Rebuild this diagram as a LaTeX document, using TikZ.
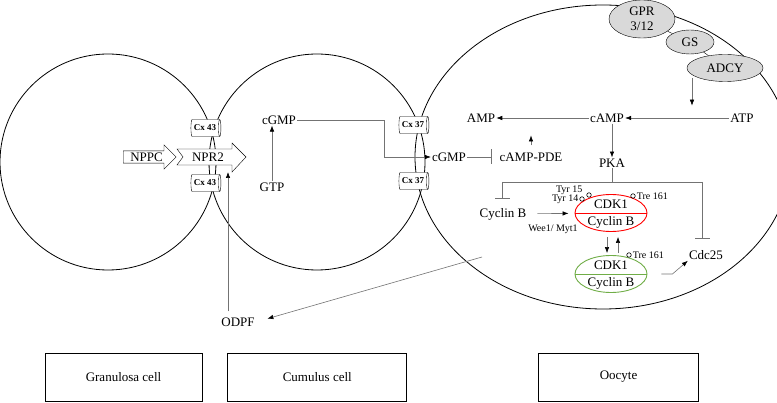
\documentclass[tikz,border=0pt]{standalone}
\usepackage{fontspec}
\setmainfont{Liberation Serif}
\usepackage{tikz}
\usetikzlibrary{arrows.meta,positioning,shapes.geometric,shapes.arrows}
\definecolor{mpfred}{rgb}{1,0,0}
\definecolor{mpfgreen}{RGB}{112,173,71}
\definecolor{lgrey}{RGB}{217,217,217}
\definecolor{ln}{RGB}{115,115,115}
\tikzset{
  cell/.style={circle,draw=black,line width=0.8pt,inner sep=0pt},
  oocyte/.style={ellipse,draw=black,line width=0.8pt,inner sep=0pt},
  gap/.style={cylinder,draw=black,fill=white,thin,inner sep=0.5pt,shape aspect=0.35,
    minimum width=17pt,minimum height=30pt,font=\bfseries\fontsize{9}{9}\selectfont},
  recp/.style={ellipse,draw=black,fill=lgrey,thin,inner sep=0pt,align=center,
    font=\fontsize{13}{15}\selectfont},
  lab/.style={inner sep=1pt,font=\fontsize{13}{15}\selectfont},
  small/.style={inner sep=0.5pt,font=\fontsize{10}{11}\selectfont},
  cplx/.style={ellipse,draw=#1,line width=0.9pt,inner sep=0pt,minimum width=72pt,minimum height=37pt},
  phos/.style={circle,draw=black,line width=0.6pt,inner sep=0pt,minimum size=4.5pt},
  cellbox/.style={rectangle,draw=black,line width=0.8pt,minimum height=48pt,
    font=\fontsize{13}{15}\selectfont},
  line/.style={draw=ln,line width=0.6pt,-{Latex[color=black,length=6pt,width=4.5pt]}},
  block/.style={draw=ln,line width=0.6pt,-{Bar[color=ln,width=15pt]}},
}
\begin{document}
\begin{tikzpicture}[x=1pt,y=-1pt]
    \useasboundingbox (0,0) rectangle (777,403);

    \node[cell,minimum size=216pt] (gran) at (108,162) {};
    \node[cell,minimum size=216pt] (cum) at (317,162) {};
    \node[oocyte,minimum width=376pt,minimum height=304pt] (oo) at (603,157) {};

    \node[single arrow,draw=black,fill=white,thin,anchor=tail,minimum height=53pt,
      single arrow head extend=6pt,inner ysep=1.6pt,inner xsep=2pt,
      font=\fontsize{13}{15}\selectfont] (nppc) at (123,157) {NPPC};
    \path[draw=black,thin,fill=white] (177,149) -- (232,149) -- (232,143) -- (246,157)
      -- (232,172) -- (232,165) -- (177,165) -- (183,157) -- cycle;
    \node[lab] (npr2) at (208,157) {NPR2};
    \coordinate (npr2b) at (228,172);

    \node[gap] (cxa) at (205,128) {Cx 43};
    \node[gap] (cxb) at (205,183) {Cx 43};
    \node[gap] (cxc) at (413,125) {Cx 37};
    \node[gap] (cxd) at (413,181) {Cx 37};

    \node[lab] (cgmpa) at (279,120) {cGMP};
    \node[lab] (gtp) at (272,187) {GTP};
    \node[lab] (odpf) at (238,322) {ODPF};

    \node[lab] (cgmpb) at (449,157) {cGMP};
    \node[lab] (pde) at (531,157) {cAMP-PDE};
    \node[lab] (amp) at (481,118) {AMP};
    \node[lab] (camp) at (607,118) {cAMP};
    \node[lab] (atp) at (742,118) {ATP};
    \node[lab] (pka) at (612,163) {PKA};
    \node[lab] (cycb) at (503,214) {Cyclin B};
    \node[lab] (cdc) at (706,255) {Cdc25};

    \node[recp,minimum width=66pt,minimum height=38pt] (gpr) at (642,19) {GPR\\3/12};
    \node[recp,minimum width=48pt,minimum height=24pt] (gs) at (690,42) {GS};
    \node[recp,minimum width=76pt,minimum height=27pt] (adcy) at (725,68) {ADCY};
    \draw[thin] (gpr) -- (gs);
    \draw[thin] (gs) -- (adcy);

    \node[cplx=mpfred] (mpfa) at (611,213) {};
    \draw[mpfred,line width=0.9pt] (mpfa.west) -- (mpfa.east);
    \node[lab] (mpfak) at ([yshift=8.5pt]mpfa.center) {CDK1};
    \node[lab] (mpfac) at ([yshift=-9pt]mpfa.center) {Cyclin B};

    \node[cplx=mpfgreen] (mpfi) at (611,274) {};
    \draw[mpfgreen,line width=0.9pt] (mpfi.west) -- (mpfi.east);
    \node[lab] (mpfik) at ([yshift=8.5pt]mpfi.center) {CDK1};
    \node[lab] (mpfic) at ([yshift=-9pt]mpfi.center) {Cyclin B};

    \node[phos] (ty14) at (582,199) {};
    \node[phos] (ty15) at (589,195) {};
    \node[small,left=0.5pt of ty14] (ty14l) {Tyr 14};
    \node[small,above=-1pt of ty14l,xshift=4pt] (ty15l) {Tyr 15};
    \node[phos] (trea) at (633,196) {};
    \node[small,right=0.5pt of trea] (treal) {Tre 161};
    \node[phos] (trei) at (629,255) {};
    \node[small,right=0.5pt of trei] (treil) {Tre 161};
    \node[small] (wee) at (553,229) {Wee1/ Myt1};

    \coordinate (brl) at (502,182);
    \coordinate (brr) at (702,182);
    \coordinate (odsrc) at (482,257);

    \node[cellbox,minimum width=157pt] (granbox) at (123.5,377) {Granulosa cell};
    \node[cellbox,minimum width=179pt,right=25pt of granbox] (cumbox) {Cumulus cell};
    \node[cellbox,minimum width=160pt,right=131pt of cumbox] (oobox) {Oocyte};

    \begin{scope}[every path/.style=line]
      \path (gtp.north) -- (gtp.north |- cgmpa.south);
      \path (cgmpa.east) -- ++(87,0) |- (cgmpb.west);
      \path (camp) -- (amp);
      \path (atp) -- (camp);
      \path[shorten <=6pt] (pde.north) -- ++(0,-16);
      \path ([xshift=-6pt]adcy.south west) -- ++(0,28);
      \path (pka.north |- camp.south) -- (pka.north);
      \path[shorten <=10pt,shorten >=6pt] (cycb) -- (mpfa);
      \path[shorten <=5pt,shorten >=2pt] ([xshift=-4pt]mpfa.south) -- ([xshift=-4pt]mpfi.north);
      \path[shorten <=2pt,shorten >=5pt] ([xshift=7pt]mpfi.north) -- ([xshift=7pt]mpfa.south);
      \path ([xshift=14pt]mpfi.east) -- ++(11,0) -- (cdc.south west);
      \path[shorten >=12pt] (odsrc) -- (odpf.east);
      \path[shorten <=5pt] (npr2b |- odpf.north) -- (npr2b);
    \end{scope}

    \begin{scope}[every path/.style=block]
      \path[shorten >=7pt] (cgmpb) -- (pde);
      \path[shorten >=8pt] (brl) -- (brl |- cycb.north);
      \path[shorten >=11pt] (brr) -- (brr |- cdc.north);
    \end{scope}
    \draw[ln,line width=0.6pt] (pka.south) -- (pka.south |- brl);
    \draw[ln,line width=0.6pt] (brl) -- (brr);

  \end{tikzpicture}
\end{document}
